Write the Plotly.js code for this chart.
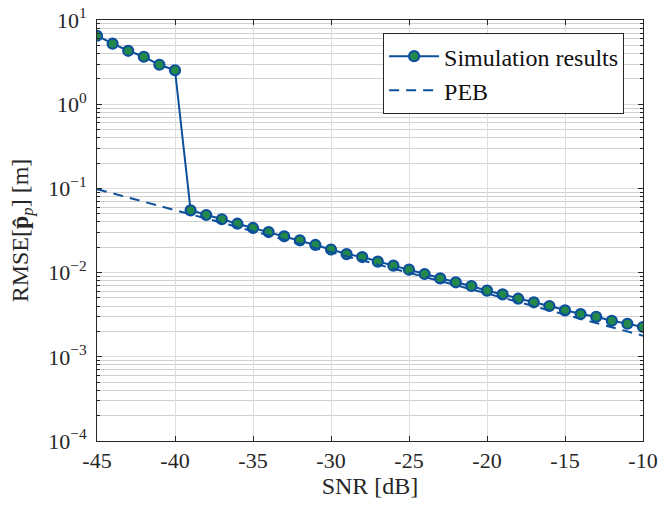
<!DOCTYPE html>
<html>
<head>
<meta charset="utf-8">
<script src="https://cdn.plot.ly/plotly-3.0.1.min.js"></script>
<style>html,body{margin:0;padding:0;background:#fff;}#chart{width:658px;height:508px;}</style>
</head>
<body>
<div id="chart"></div>
<script>
// ---- data ----
const snrDb = [-45,-44,-43,-42,-41,-40,-39,-38,-37,-36,-35,-34,-33,-32,-31,-30,-29,-28,-27,-26,-25,-24,-23,-22,-21,-20,-19,-18,-17,-16,-15,-14,-13,-12,-11,-10];
const rmseSim = [6.5,5.23,4.31,3.66,2.94,2.53,0.0549,0.0483,0.0430,0.0381,0.0339,0.0303,0.0270,0.0242,0.0213,0.0188,0.0166,0.0153,0.0135,0.0121,0.01083,0.00962,0.00855,0.00767,0.00693,0.00610,0.00552,0.00490,0.00444,0.00401,0.00356,0.00322,0.00299,0.00268,0.00247,0.00226];
const pebSnr = [-45,-40,-30,-20,-10];
const pebVal = [0.098,0.0550,0.0175,0.00565,0.00178];
const xTicks = [-45,-40,-35,-30,-25,-20,-15,-10];
const xTickText = ['-45','-40','-35','-30','-25','-20','-15','-10'];
const yTicks = [1e-4,1e-3,1e-2,1e-1,1,10];
const yTickText = ['10<sup>\u22124</sup>','10<sup>\u22123</sup>','10<sup>\u22122</sup>','10<sup>\u22121</sup>','10<sup>0</sup>','10<sup>1</sup>'];
const legendNames = ['Simulation results','PEB'];

const blue = '#0c4f9c';
const green = '#23894a';
const axisCol = '#262626';
const fontFam = 'Liberation Serif';

const minorVals = [];
for (let e = -4; e < 1; e++) for (let m = 2; m <= 9; m++) minorVals.push(m * Math.pow(10, e));

const traces = [
  {x: snrDb, y: rmseSim, name: legendNames[0], type: 'scatter', mode: 'lines+markers',
   line: {color: blue, width: 2}, marker: {size: 10, color: green, line: {color: blue, width: 2.2}}},
  {x: pebSnr, y: pebVal, name: legendNames[1], type: 'scatter', mode: 'lines',
   line: {color: blue, width: 2, dash: '10px,7px'}}
];

const layout = {
  width: 658, height: 508,
  margin: {l: 97, r: 15, t: 20, b: 67},
  paper_bgcolor: '#fff', plot_bgcolor: '#fff',
  font: {family: fontFam, color: axisCol, size: 22},
  showlegend: true,
  legend: {x: 0.524, y: 0.969, xanchor: 'left', yanchor: 'top', bgcolor: '#fff',
           bordercolor: axisCol, borderwidth: 1, font: {family: fontFam, size: 24, color: '#111'},
           tracegroupgap: 0, itemwidth: 50},
  xaxis: {range: [-45, -10], tickvals: xTicks, ticktext: xTickText, ticks: 'inside', ticklen: 5,
          tickcolor: axisCol, showline: true, linecolor: axisCol, linewidth: 1, mirror: 'allticks',
          showgrid: true, gridcolor: '#dedede', gridwidth: 1, zeroline: false, automargin: false,
          tickfont: {family: fontFam, size: 22, color: axisCol},
          title: {text: 'SNR [dB]', font: {family: fontFam, size: 24, color: axisCol}, standoff: 4}},
  yaxis: {type: 'log', range: [-4, 1], tickvals: yTicks, ticktext: yTickText, ticks: 'inside', ticklen: 5,
          tickcolor: axisCol, showline: true, linecolor: axisCol, linewidth: 1, mirror: 'allticks',
          showgrid: true, gridcolor: '#dedede', gridwidth: 1, zeroline: false, automargin: false,
          ticklabelstandoff: 5,
          tickfont: {family: fontFam, size: 22, color: axisCol},
          minor: {tickmode: 'array', tickvals: minorVals, ticks: 'inside', ticklen: 3, tickcolor: axisCol,
                  showgrid: true, gridcolor: '#d0d0d0', gridwidth: 1},
          title: {text: 'RMSE[<b>p\u0302</b><sub><i>p</i></sub>] [m]', font: {family: fontFam, size: 24, color: axisCol}, standoff: 12}}
};

Plotly.newPlot('chart', traces, layout, {displayModeBar: false, staticPlot: true});
</script>
</body>
</html>
